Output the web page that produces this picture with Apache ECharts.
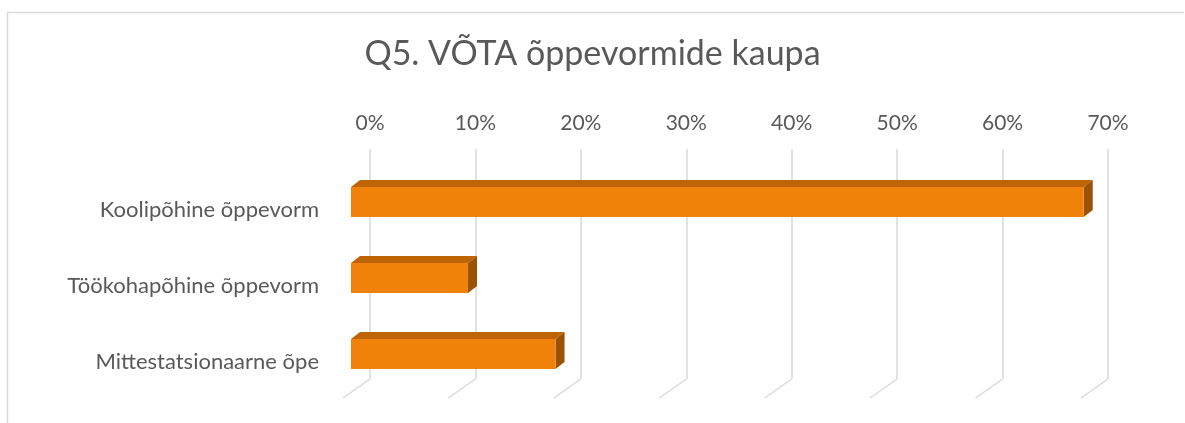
<!DOCTYPE html>
<html>
<head>
<meta charset="utf-8">
<script src="https://cdn.jsdelivr.net/npm/echarts@6/dist/echarts.min.js"></script>
<style>
  html, body { margin: 0; padding: 0; background: #fff; }
  #chart { width: 1185px; height: 423px; }
</style>
</head>
<body>
<div id="chart"></div>
<script>
const categories = ['Koolipõhine õppevorm', 'Töökohapõhine õppevorm', 'Mittestatsionaarne õpe'];
const values = [0.695, 0.111, 0.194];
const ticks = [0, 0.1, 0.2, 0.3, 0.4, 0.5, 0.6, 0.7];

const font = 'Lato, "Open Sans", sans-serif';
const textColor = '#595959';
const gridColor = '#d9d9d9';
// depth offsets of the fake 3D look
const depth = [9, -7];
const floor = [-27, 19];

const chart = echarts.init(document.getElementById('chart'));

const option = {
  animation: false,
  title: {
    text: 'Q5. VÕTA õppevormide kaupa',
    left: 'center',
    top: 32,
    textStyle: {fontFamily: font, fontSize: 34, fontWeight: 'normal', color: textColor}
  },
  graphic: [
    {
      type: 'polyline',
      shape: {points: [[7.5, 423], [7.5, 12.5], [1184, 12.5]]},
      style: {stroke: gridColor, lineWidth: 1.5, fill: null}
    }
  ],
  grid: [
    // back wall
    {left: 370, width: 738, top: 149, height: 230},
    // front plane of the bars
    {left: 351, width: 738, top: 164, height: 228},
    // category labels (sit slightly lower than bar centres)
    {left: 351, width: 738, top: 172, height: 228}
  ],
  xAxis: [
    {
      gridIndex: 0, type: 'value', min: 0, max: 0.7, interval: 0.1, position: 'top',
      axisLine: {show: false}, axisTick: {show: false},
      axisLabel: {
        margin: 15, fontFamily: font, fontSize: 21, color: textColor,
        formatter: v => Math.round(v * 100) + '%'
      },
      splitLine: {show: true, lineStyle: {color: gridColor, width: 1.5}}
    },
    {gridIndex: 1, type: 'value', min: 0, max: 0.7, show: false},
    {gridIndex: 2, type: 'value', min: 0, max: 0.7, show: false}
  ],
  yAxis: [
    {gridIndex: 0, type: 'value', min: 0, max: 1, show: false},
    {gridIndex: 1, type: 'category', data: categories, inverse: true, show: false},
    {
      gridIndex: 2, type: 'category', data: categories, inverse: true,
      axisLine: {show: false}, axisTick: {show: false},
      axisLabel: {margin: 32, fontFamily: font, fontSize: 22, color: textColor}
    }
  ],
  series: [
    {
      // floor lines running from the back wall to the front
      type: 'custom',
      xAxisIndex: 0, yAxisIndex: 0,
      data: ticks.map(t => [t, 0]),
      silent: true,
      renderItem: (params, api) => {
        const p = api.coord([api.value(0), 0]);
        return {
          type: 'line',
          shape: {x1: p[0], y1: p[1], x2: p[0] + floor[0], y2: p[1] + floor[1]},
          style: {stroke: gridColor, lineWidth: 1.5}
        };
      }
    },
    {
      type: 'custom',
      xAxisIndex: 1, yAxisIndex: 1,
      data: values.map((v, i) => [v, i]),
      renderItem: (params, api) => {
        const start = api.coord([0, api.value(1)]);
        const end = api.coord([api.value(0), api.value(1)]);
        const h = 30;
        const x0 = start[0], x1 = end[0];
        const y0 = start[1] - h / 2, y1 = start[1] + h / 2;
        const dx = depth[0], dy = depth[1];
        return {
          type: 'group',
          children: [
            {
              type: 'polygon',
              shape: {points: [[x0, y0], [x0 + dx, y0 + dy], [x1 + dx, y0 + dy], [x1, y0]]},
              style: {fill: '#bf6405'}
            },
            {
              type: 'polygon',
              shape: {points: [[x1, y0], [x1 + dx, y0 + dy], [x1 + dx, y1 + dy], [x1, y1]]},
              style: {fill: '#9b5204'}
            },
            {
              type: 'rect',
              shape: {x: x0, y: y0, width: x1 - x0, height: h},
              style: {fill: '#f0820a'}
            }
          ]
        };
      }
    }
  ]
};

chart.setOption(option);
</script>
</body>
</html>
